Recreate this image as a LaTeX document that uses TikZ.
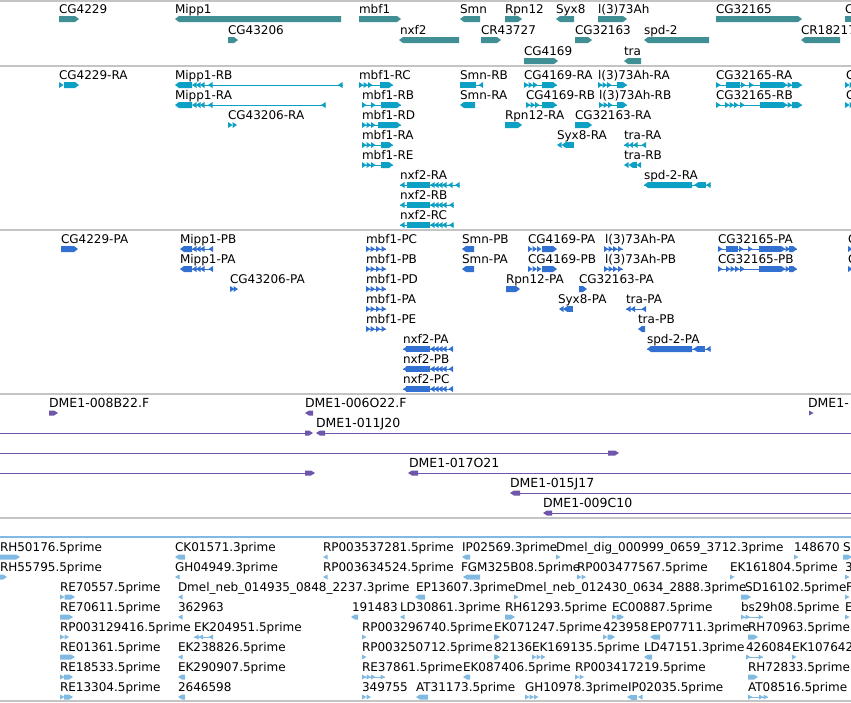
\documentclass[tikz,border=0pt]{standalone}
\usepackage{fontspec}
\setmainfont{DejaVu Sans}
\definecolor{cGene}{RGB}{64,143,148}
\definecolor{cTr}{RGB}{12,160,196}
\definecolor{cPr}{RGB}{50,112,210}
\definecolor{cDme}{RGB}{112,86,170}
\definecolor{cEst}{RGB}{128,186,226}
\definecolor{cSep}{RGB}{196,196,196}
\newcommand\ghh{3}
\newcommand\lbl[3]{\node[lab] at (#1,#2) {#3};}
\newcommand\dlbl[3]{\node[dlab] at (#1,#2) {#3};}
\newcommand\gbR[3]{\fill (#1,#3-\ghh) -- (#2-4,#3-\ghh) -- (#2,#3) -- (#2-4,#3+\ghh) -- (#1,#3+\ghh) -- cycle;}
\newcommand\gbL[3]{\fill (#2,#3-\ghh) -- (#1+4,#3-\ghh) -- (#1,#3) -- (#1+4,#3+\ghh) -- (#2,#3+\ghh) -- cycle;}
\newcommand\gbB[3]{\fill (#1,#3-\ghh) rectangle (#2,#3+\ghh);}
\newcommand\chR[2]{\fill (#1,#2-\ghh) -- (#1+4.5,#2) -- (#1,#2+\ghh) -- cycle;}
\newcommand\chL[2]{\fill (#1+4.5,#2-\ghh) -- (#1,#2) -- (#1+4.5,#2+\ghh) -- cycle;}
\newcommand\inL[3]{\draw[line width=1pt] (#1,#3) -- (#2,#3);}
% compound glyphs
\newcommand\mipT[3]{\inL{#1+28}{#2}{#3}\gbL{#1}{#1+17}{#3}\chL{#1+17}{#3}\chL{#1+21}{#3}\chL{#1+25}{#3}\chL{#1+33}{#3}\chL{#2-5}{#3}}
\newcommand\mbfA[2]{\inL{#1}{#1+31}{#2}\chR{#1}{#2}\chR{#1+4.5}{#2}\chR{#1+9}{#2}\gbR{#1+19}{#1+31}{#2}}
\newcommand\nxfT[3]{\inL{#1}{#2}{#3}\chL{#1}{#3}\gbB{#1+7}{#1+30}{#3}\chL{#1+30}{#3}\chL{#1+34}{#3}\chL{#1+38}{#3}\chL{#1+42}{#3}\chL{#2-5}{#3}}
\newcommand\cgbig[2]{\inL{716}{802}{#2}\chR{716}{#2}#1\gbB{760}{783}{#2}\chR{783}{#2}\chR{787.5}{#2}\gbR{792}{802}{#2}}
\begin{document}
\begin{tikzpicture}[x=1pt,y=-1pt,
  lab/.style={anchor=base west,inner sep=0pt,outer sep=0pt,text=black,font=\fontsize{12}{14}\selectfont},
  dlab/.style={anchor=base west,inner sep=0pt,outer sep=0pt,text=black,font=\fontsize{12.5}{14}\selectfont},
  sepline/.style={draw=cSep,line width=1.3pt}]
\useasboundingbox (0,0) rectangle (851,702);
\fill[white] (0,0) rectangle (851,702);
\clip (0,0) rectangle (851,702);
% separators
\draw[sepline] (0,1) -- (851,1);
\draw[sepline] (0,66) -- (851,66);
\draw[sepline] (0,230) -- (851,230);
\draw[sepline] (0,394) -- (851,394);
\draw[sepline] (0,518) -- (851,518);
\draw[draw=cEst,line width=1.3pt] (0,537) -- (851,537);
\draw[sepline] (0,701) -- (851,701);

% ---------------- genes ----------------
\begin{scope}[color=cGene]
\lbl{59}{13}{CG4229}\gbR{59}{79}{19}
\lbl{175}{13}{Mipp1}\gbL{175}{341}{19}
\lbl{359}{13}{mbf1}\gbR{359}{401}{19}
\lbl{460}{13}{Smn}\gbL{460}{480}{19}
\lbl{505}{13}{Rpn12}\gbR{505}{522}{19}
\lbl{556}{13}{Syx8}\gbL{556}{574}{19}
\lbl{598}{13}{l(3)73Ah}\gbR{598}{627}{19}
\lbl{716}{13}{CG32165}\gbR{716}{802}{19}
\lbl{845}{13}{C}\gbB{845}{852}{19}
\lbl{228}{34}{CG43206}\gbR{228}{238}{40}
\lbl{400}{34}{nxf2}\gbL{399}{459}{40}
\lbl{481}{34}{CR43727}\gbR{481}{501}{40}
\lbl{575}{34}{CG32163}\gbR{575}{592}{40}
\lbl{644}{34}{spd-2}\gbL{644}{709}{40}
\lbl{801}{34}{CR18217}\gbL{801}{840}{40}
\lbl{524}{55}{CG4169}\gbR{524}{558}{61}
\lbl{624}{55}{tra}\gbL{624}{641}{61}
\end{scope}

% ---------------- transcripts ----------------
\begin{scope}[color=cTr]
% row 0
\lbl{59}{79}{CG4229-RA}\chR{59}{85}\gbR{64}{79}{85}
\lbl{175}{79}{Mipp1-RB}\mipT{175}{343}{85}
\lbl{359}{79}{mbf1-RC}\inL{359}{393}{85}\chR{359}{85}\chR{363.5}{85}\chR{368}{85}\gbR{380}{393}{85}
\lbl{460}{79}{Smn-RB}\inL{460}{483}{85}\gbB{460}{476}{85}\chL{478.5}{85}
\lbl{524}{79}{CG4169-RA}\inL{524}{557}{85}\chR{524}{85}\chR{528.5}{85}\chR{533}{85}\gbR{542}{557}{85}
\lbl{598}{79}{l(3)73Ah-RA}\inL{598}{627}{85}\chR{598}{85}\chR{602.5}{85}\chR{607}{85}\gbR{617}{627}{85}
\lbl{716}{79}{CG32165-RA}\cgbig{\gbB{726}{740}{85}\chR{741}{85}\chR{749}{85}}{85}
\lbl{846}{79}{C}\chR{845}{85}\chR{849.5}{85}
% row 1
\lbl{175}{99}{Mipp1-RA}\mipT{175}{326}{105}
\lbl{362}{99}{mbf1-RB}\inL{362}{401}{105}\chR{362}{105}\chR{371}{105}\gbR{381}{401}{105}
\lbl{460}{99}{Smn-RA}\gbL{460}{475}{105}
\lbl{526}{99}{CG4169-RB}\inL{526}{557}{105}\chR{526}{105}\chR{530.5}{105}\chR{535}{105}\gbR{542}{557}{105}
\lbl{599}{99}{l(3)73Ah-RB}\inL{599}{627}{105}\chR{599}{105}\chR{603.5}{105}\chR{608}{105}\gbR{617}{627}{105}
\lbl{716}{99}{CG32165-RB}\cgbig{\chR{725}{105}\chR{729.5}{105}\chR{734}{105}\chR{740}{105}}{105}
\lbl{846}{99}{C}\chR{845}{105}\chR{849.5}{105}
% row 2
\lbl{228}{119}{CG43206-RA}\chR{228}{125}\chR{232.5}{125}
\lbl{362}{119}{mbf1-RD}\inL{362}{401}{125}\chR{362}{125}\chR{366.5}{125}\chR{371}{125}\gbR{378}{401}{125}
\lbl{505}{119}{Rpn12-RA}\gbR{505}{522}{125}
\lbl{575}{119}{CG32163-RA}\gbR{575}{592}{125}
% row 3
\lbl{362}{139}{mbf1-RA}\mbfA{362}{145}
\lbl{557}{139}{Syx8-RA}\chL{557}{145}\chL{561.5}{145}\gbB{566}{574}{145}
\lbl{624}{139}{tra-RA}\inL{624}{646}{145}\chL{624}{145}\chL{628.5}{145}\chL{633}{145}\chL{641.5}{145}
% row 4
\lbl{362}{159}{mbf1-RE}\mbfA{362}{165}
\lbl{624}{159}{tra-RB}\chL{624}{165}\chL{628.5}{165}\gbB{633}{637}{165}\chL{636.5}{165}
% row 5
\lbl{400}{179}{nxf2-RA}\nxfT{400}{460}{185}\chL{448}{185}
\lbl{644}{179}{spd-2-RA}\inL{644}{711}{185}\gbL{644}{692}{185}\chL{694}{185}\gbB{698}{706}{185}\chL{706}{185}
% rows 6,7
\lbl{400}{199}{nxf2-RB}\nxfT{400}{454}{205}
\lbl{400}{219}{nxf2-RC}\nxfT{400}{454}{225}
\end{scope}

% ---------------- proteins ----------------
\begin{scope}[color=cPr]
% row 0
\lbl{61}{243}{CG4229-PA}\gbR{61}{78}{249}
\lbl{180}{243}{Mipp1-PB}\inL{192}{213}{249}\gbL{180}{192}{249}\chL{192}{249}\chL{196}{249}\chL{200}{249}\chL{208.5}{249}
\lbl{366}{243}{mbf1-PC}\inL{366}{386}{249}\chR{366}{249}\chR{370.5}{249}\chR{376}{249}\chR{381.5}{249}
\lbl{462}{243}{Smn-PB}\gbL{462}{474}{249}
\lbl{528}{243}{CG4169-PA}\chR{528}{249}\chR{532.5}{249}\chR{537}{249}\gbR{542}{557}{249}
\lbl{605}{243}{l(3)73Ah-PA}\inL{604}{623}{249}\chR{604}{249}\chR{608.5}{249}\chR{613}{249}\chR{618}{249}
\lbl{718}{243}{CG32165-PA}\inL{718}{797}{249}\chR{718}{249}\gbB{726}{738}{249}\chR{739}{249}\chR{748}{249}\gbB{759}{781}{249}\chR{781}{249}\chR{785.5}{249}\gbR{789}{797}{249}
\lbl{848}{243}{C}\chR{848}{249}
% row 1
\lbl{180}{263}{Mipp1-PA}\inL{192}{213}{269}\gbL{180}{192}{269}\chL{192}{269}\chL{196}{269}\chL{200}{269}\chL{208.5}{269}
\lbl{366}{263}{mbf1-PB}\inL{366}{386}{269}\chR{366}{269}\chR{370.5}{269}\chR{376}{269}\chR{381.5}{269}
\lbl{462}{263}{Smn-PA}\gbL{462}{474}{269}
\lbl{528}{263}{CG4169-PB}\chR{528}{269}\chR{532.5}{269}\chR{537}{269}\gbR{542}{557}{269}
\lbl{605}{263}{l(3)73Ah-PB}\inL{604}{623}{269}\chR{604}{269}\chR{608.5}{269}\chR{613}{269}\chR{618}{269}
\lbl{718}{263}{CG32165-PB}\inL{718}{797}{269}\chR{718}{269}\chR{726}{269}\chR{730.5}{269}\chR{735}{269}\chR{740}{269}\gbB{759}{781}{269}\chR{781}{269}\chR{785.5}{269}\gbR{789}{797}{269}
\lbl{848}{263}{C}\chR{848}{269}
% row 2
\lbl{230}{283}{CG43206-PA}\chR{230}{289}\chR{233.5}{289}
\lbl{366}{283}{mbf1-PD}\inL{366}{386}{289}\chR{366}{289}\chR{370.5}{289}\chR{376}{289}\chR{381.5}{289}
\lbl{506}{283}{Rpn12-PA}\gbR{506}{520}{289}
\lbl{579}{283}{CG32163-PA}\gbR{579}{587}{289}
% row 3
\lbl{366}{303}{mbf1-PA}\inL{366}{386}{309}\chR{366}{309}\chR{370.5}{309}\chR{376}{309}\chR{381.5}{309}
\lbl{558}{303}{Syx8-PA}\chL{559}{309}\chL{563}{309}\gbB{567}{573}{309}
\lbl{626}{303}{tra-PA}\inL{626}{646}{309}\chL{626}{309}\chL{630.5}{309}\chL{641.5}{309}
% row 4
\lbl{366}{323}{mbf1-PE}\inL{366}{386}{329}\chR{366}{329}\chR{370.5}{329}\chR{376}{329}\chR{381.5}{329}
\lbl{638}{323}{tra-PB}\gbL{638}{645}{329}
% row 5-7
\lbl{403}{343}{nxf2-PA}\inL{403}{453}{349}\chL{403}{349}\gbB{406}{430}{349}\chL{430}{349}\chL{434}{349}\chL{438}{349}\chL{442}{349}\chL{448.5}{349}
\lbl{647}{343}{spd-2-PA}\inL{647}{711}{349}\gbL{647}{692}{349}\chL{693}{349}\gbB{697}{705}{349}\chL{706}{349}
\lbl{403}{363}{nxf2-PB}\inL{403}{453}{369}\chL{403}{369}\gbB{406}{430}{369}\chL{430}{369}\chL{434}{369}\chL{438}{369}\chL{442}{369}\chL{448.5}{369}
\lbl{403}{383}{nxf2-PC}\inL{403}{453}{389}\chL{403}{389}\gbB{406}{430}{389}\chL{430}{389}\chL{434}{389}\chL{438}{389}\chL{442}{389}\chL{448.5}{389}
\end{scope}

% ---------------- DME1 clones ----------------
\begin{scope}[color=cDme]
\renewcommand\ghh{2.5}
\dlbl{49}{407}{DME1-008B22.F}\gbR{49}{58}{413}
\dlbl{305}{407}{DME1-006O22.F}\gbL{305}{313}{413}
\dlbl{808}{407}{DME1-}\chR{809}{413}
\dlbl{316}{427}{DME1-011J20}
\inL{0}{308}{433}\gbR{305}{313}{433}\gbL{316}{325}{433}\inL{322}{851}{433}
\inL{0}{612}{453}\gbR{608}{619}{453}
\inL{0}{308}{473}\gbR{305}{315}{473}
\dlbl{409}{467}{DME1-017O21}\gbL{408}{418}{473}\inL{415}{851}{473}
\dlbl{510}{487}{DME1-015J17}\gbL{510}{520}{493}\inL{517}{851}{493}
\dlbl{543}{507}{DME1-009C10}\gbL{543}{552}{513}\inL{549}{851}{513}
\end{scope}

% ---------------- ESTs ----------------
\begin{scope}[color=cEst]
\renewcommand\ghh{2.5}
% row 0
\lbl{0}{551}{RH50176.5prime}\gbR{0}{20}{557}
\lbl{175}{551}{CK01571.3prime}\gbL{175}{185}{557}
\lbl{323}{551}{RP003537281.5prime}\chL{323}{557}
\lbl{462}{551}{IP02569.3prime}\gbL{462}{470}{557}
\lbl{556}{551}{Dmel\_dig\_000999\_0659\_3712.3prime}\chR{556}{557}
\lbl{794}{551}{148670}\chR{794}{557}
\lbl{843}{551}{S}\gbR{843}{852}{557}
% row 1
\lbl{0}{571}{RH55795.5prime}\gbR{0}{7}{577}
\lbl{175}{571}{GH04949.3prime}\chL{175}{577}
\lbl{323}{571}{RP003634524.5prime}\chL{323}{577}
\lbl{461}{571}{FGM325B08.5prime}\gbL{463}{480}{577}
\lbl{577}{571}{RP003477567.5prime}\chR{577}{577}\chR{581.5}{577}
\lbl{730}{571}{EK161804.5prime}\chR{730}{577}
\lbl{845}{571}{3}\chR{845}{577}
% row 2
\lbl{60}{591}{RE70557.5prime}\chR{60}{597}\gbR{64.5}{75}{597}
\lbl{178}{591}{Dmel\_neb\_014935\_0848\_2237.3prime}\chL{178}{597}
\lbl{416}{591}{EP13607.3prime}\gbL{415}{425}{597}
\lbl{515}{591}{Dmel\_neb\_012430\_0634\_2888.3prime}\chR{514}{597}
\lbl{745}{591}{SD16102.5prime}\gbR{741}{751}{597}
\lbl{846}{591}{F}\chR{845}{597}
% row 3
\lbl{60}{611}{RE70611.5prime}\gbR{60}{73}{617}
\lbl{178}{611}{362963}\chL{178}{617}
\lbl{352}{611}{191483}\gbL{351}{358}{617}
\lbl{400}{611}{LD30861.3prime}\chL{400}{617}
\lbl{505}{611}{RH61293.5prime}\gbR{505}{515}{617}
\lbl{612}{611}{EC00887.5prime}\chR{612}{617}\gbR{616.5}{624}{617}
\lbl{741}{611}{bs29h08.5prime}\inL{741}{763}{617}\chR{741}{617}\chR{745.5}{617}\chR{758.5}{617}
\lbl{845}{611}{E}\chR{845}{617}
% row 4
\lbl{60}{631}{RP003129416.5prime}\chR{60}{637}\chR{64.5}{637}
\lbl{194}{631}{EK204951.5prime}\inL{194}{213}{637}\chL{194}{637}\chL{198.5}{637}\chL{208.5}{637}
\lbl{362}{631}{RP003296740.5prime}\chR{362}{637}
\lbl{494}{631}{EK071247.5prime}\gbR{494}{500}{637}
\lbl{603}{631}{423958}\chR{603}{637}\gbR{607.5}{615}{637}
\lbl{650}{631}{EP07711.3prime}\gbL{650}{660}{637}
\lbl{748}{631}{RH70963.5prime}\gbR{748}{758}{637}
% row 5
\lbl{60}{651}{RE01361.5prime}\gbR{60}{75}{657}
\lbl{178}{651}{EK238826.5prime}\chL{178}{657}
\lbl{362}{651}{RP003250712.5prime}\chR{362}{657}
\lbl{494}{651}{82136}\gbR{494}{500}{657}
\lbl{532}{651}{EK169135.5prime}\chR{532}{657}\chR{536.5}{657}\chR{541}{657}
\lbl{644}{651}{LD47151.3prime}\gbL{644}{652}{657}
\lbl{746}{651}{426084}\inL{746}{763}{657}\chR{746}{657}\chR{758.5}{657}
\lbl{792}{651}{EK107642}\chR{792}{657}
% row 6
\lbl{60}{671}{RE18533.5prime}\chR{60}{677}\gbR{64}{73}{677}
\lbl{178}{671}{EK290907.5prime}\gbL{178}{185}{677}
\lbl{362}{671}{RE37861.5prime}\inL{362}{385}{677}\chR{362}{677}\chR{366.5}{677}\chR{371}{677}\chR{380.5}{677}
\lbl{463}{671}{EK087406.5prime}\gbL{463}{470}{677}
\lbl{575}{671}{RP003417219.5prime}\chR{575}{677}\chR{579.5}{677}
\lbl{748}{671}{RH72833.5prime}\gbR{748}{758}{677}
% row 7
\lbl{60}{691}{RE13304.5prime}\chR{60}{697}\gbR{64}{73}{697}
\lbl{178}{691}{2646598}\gbL{178}{185}{697}
\lbl{362}{691}{349755}\chR{362}{697}\chR{366.5}{697}
\lbl{416}{691}{AT31173.5prime}\gbL{416}{428}{697}
\lbl{525}{691}{GH10978.3prime}\chR{525}{697}\chR{529.5}{697}\chR{534}{697}
\lbl{628}{691}{IP02035.5prime}\chL{627}{697}\gbB{631}{637}{697}\chL{638}{697}
\lbl{748}{691}{AT08516.5prime}\inL{748}{768}{697}\chR{748}{697}\chR{759}{697}\chR{763.5}{697}
\end{scope}
\end{tikzpicture}
\end{document}
